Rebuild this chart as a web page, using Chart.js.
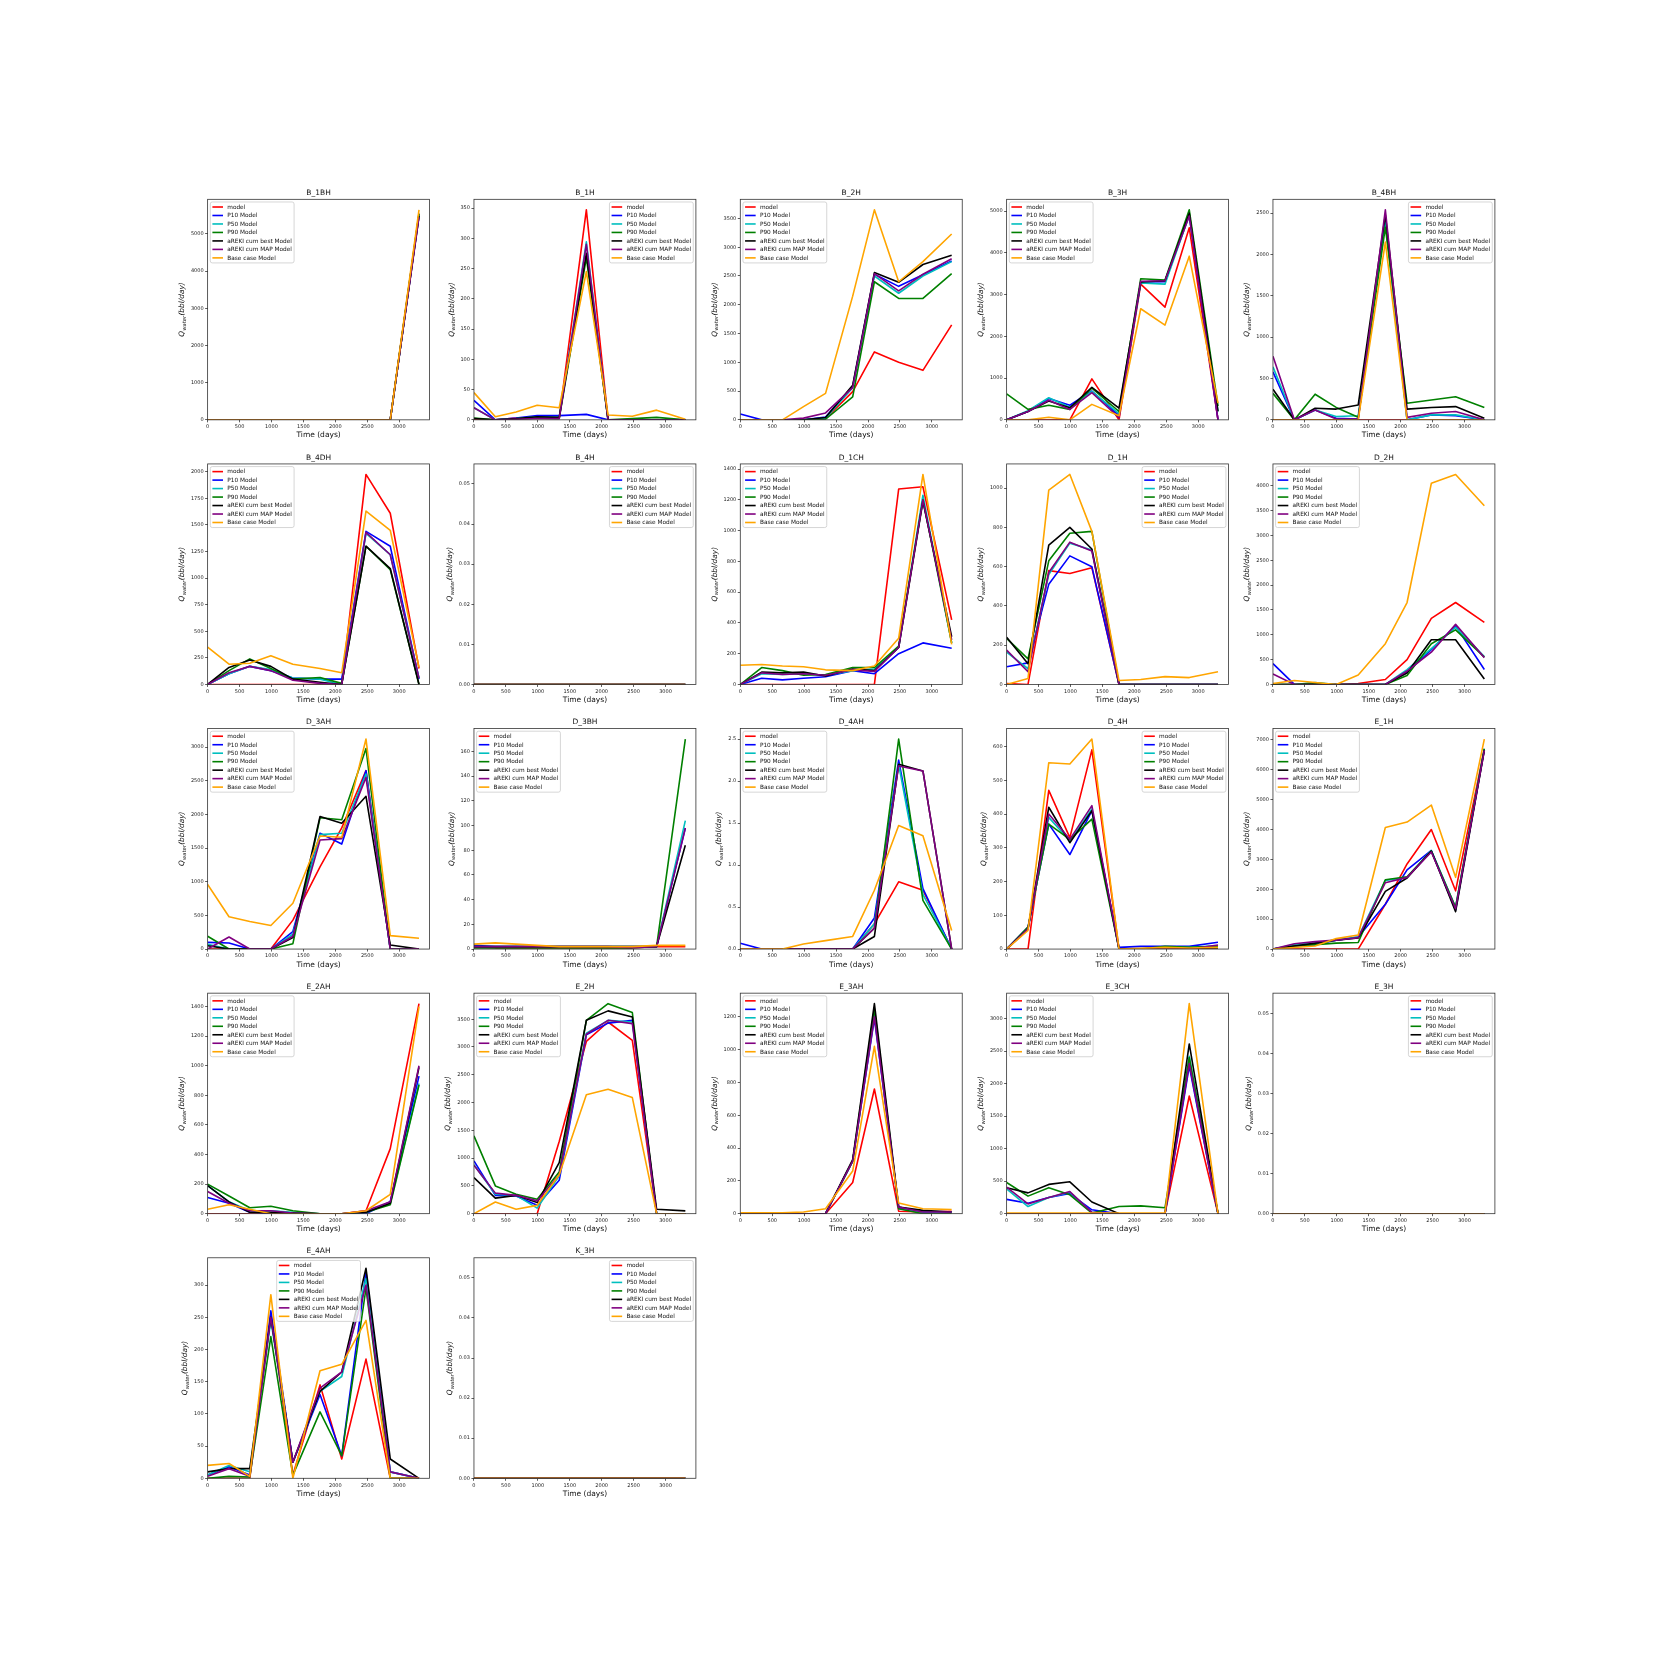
<!DOCTYPE html>
<html>
<head>
<meta charset="utf-8">
<script src="https://cdn.jsdelivr.net/npm/chart.js@4/dist/chart.umd.min.js"></script>
<style>
	html, body { margin: 0; padding: 0; background: #ffffff; }
	#figure { position: relative; width: 1661px; height: 1661px; background: #ffffff; overflow: hidden; }
	#figure canvas { position: absolute; }
</style>
</head>
<body>
<div id="figure"></div>
<script>
//time axis shared by every well (days)
var days = [0, 335, 660, 990, 1335, 1760, 2100, 2480, 2860, 3310];

//series names, in plotting order
var seriesLabels = ['model', 'P10 Model', 'P50 Model', 'P90 Model', 'aREKI cum best Model', 'aREKI cum MAP Model', 'Base case Model'];

//wells, row by row
var wells = ['B_1BH', 'B_1H', 'B_2H', 'B_3H', 'B_4BH',
	'B_4DH', 'B_4H', 'D_1CH', 'D_1H', 'D_2H',
	'D_3AH', 'D_3BH', 'D_4AH', 'D_4H', 'E_1H',
	'E_2AH', 'E_2H', 'E_3AH', 'E_3CH', 'E_3H',
	'E_4AH', 'K_3H'];

//tick spacing: x is shared, y is per well
var xTickStep = 500;
var yTickSteps = [1000, 50, 500, 1000, 500,
	250, 0.01, 200, 200, 500,
	500, 20, 0.5, 100, 1000,
	200, 500, 200, 500, 0.01,
	50, 0.01];

//water rate per well: one row per series (model, P10, P50, P90, best, MAP, base case)
var B_1BH = [
	[0, 0, 0, 0, 0, 0, 0, 0, 0, 5550],
	[0, 0, 0, 0, 0, 0, 0, 0, 0, 5500],
	[0, 0, 0, 0, 0, 0, 0, 0, 0, 5500],
	[0, 0, 0, 0, 0, 0, 0, 0, 0, 5550],
	[0, 0, 0, 0, 0, 0, 0, 0, 0, 5480],
	[0, 0, 0, 0, 0, 0, 0, 0, 0, 5450],
	[0, 0, 0, 0, 0, 0, 0, 0, 0, 5650]
];
var B_1H = [
	[0, 0, 3, 4, 3, 347, 0, 0, 0, 0],
	[32, 0, 3, 7, 7, 9, 0, 0, 0, 0],
	[20, 0, 2, 5, 4, 294, 0, 0, 0, 0],
	[3, 0, 1, 3, 2, 268, 0, 2, 4, 0],
	[2, 0, 2, 5, 4, 275, 0, 0, 0, 0],
	[20, 0, 1, 2, 2, 290, 0, 0, 0, 0],
	[45, 5, 13, 24, 20, 245, 8, 6, 16, 1]
];
var B_2H = [
	[0, 0, 0, 0, 20, 490, 1180, 1000, 860, 1650],
	[100, 0, 0, 0, 50, 580, 2530, 2320, 2520, 2760],
	[0, 0, 0, 0, 30, 560, 2500, 2200, 2500, 2750],
	[0, 0, 0, 0, 10, 400, 2400, 2110, 2110, 2540],
	[0, 0, 0, 0, 40, 600, 2560, 2390, 2700, 2860],
	[0, 0, 0, 30, 120, 560, 2540, 2240, 2530, 2800],
	[0, 0, 0, 230, 460, 2150, 3650, 2400, 2750, 3230]
];
var B_3H = [
	[0, 0, 0, 0, 980, 0, 3250, 2700, 4600, 0],
	[0, 200, 510, 350, 690, 100, 3300, 3310, 4900, 0],
	[0, 220, 530, 300, 680, 150, 3280, 3250, 4900, 200],
	[620, 250, 350, 250, 760, 200, 3380, 3350, 5030, 330],
	[0, 200, 450, 290, 780, 280, 3300, 3330, 4950, 200],
	[0, 200, 470, 250, 650, 50, 3320, 3330, 4880, 0],
	[0, 0, 60, 0, 370, 100, 2660, 2270, 3920, 400]
];
var B_4BH = [
	[0, 0, 0, 0, 0, 0, 0, 0, 0, 0],
	[580, 0, 120, 20, 10, 2450, 0, 60, 50, 0],
	[640, 0, 120, 40, 50, 2400, 0, 60, 60, 0],
	[320, 0, 310, 150, 30, 2330, 200, 240, 280, 150],
	[370, 0, 140, 130, 180, 2480, 130, 150, 160, 20],
	[770, 0, 120, 10, 10, 2540, 30, 80, 100, 0],
	[0, 0, 0, 0, 0, 2150, 0, 0, 0, 0]
];
var B_4DH = [
	[0, 0, 0, 0, 0, 0, 0, 1975, 1610, 150],
	[0, 100, 170, 130, 60, 50, 50, 1440, 1300, 50],
	[0, 100, 170, 140, 60, 50, 0, 1420, 1220, 60],
	[0, 130, 240, 150, 50, 65, 10, 1300, 1080, 0],
	[0, 160, 230, 170, 50, 20, 0, 1300, 1090, 0],
	[0, 110, 170, 130, 40, 10, 0, 1430, 1220, 60],
	[350, 190, 200, 270, 190, 150, 110, 1630, 1450, 160]
];
var B_4H = [
	[0, 0, 0, 0, 0, 0, 0, 0, 0, 0],
	[0, 0, 0, 0, 0, 0, 0, 0, 0, 0],
	[0, 0, 0, 0, 0, 0, 0, 0, 0, 0],
	[0, 0, 0, 0, 0, 0, 0, 0, 0, 0],
	[0, 0, 0, 0, 0, 0, 0, 0, 0, 0],
	[0, 0, 0, 0, 0, 0, 0, 0, 0, 0],
	[0, 0, 0, 0, 0, 0, 0, 0, 0, 0]
];
var D_1CH = [
	[0, 0, 0, 0, 0, 0, 0, 1270, 1285, 420],
	[0, 40, 30, 40, 50, 90, 70, 200, 270, 235],
	[0, 70, 65, 70, 60, 90, 100, 240, 1230, 270],
	[0, 110, 90, 60, 65, 110, 110, 250, 1200, 270],
	[0, 80, 75, 80, 55, 100, 90, 240, 1190, 310],
	[0, 75, 65, 70, 60, 95, 85, 240, 1200, 290],
	[125, 130, 120, 115, 95, 90, 120, 300, 1365, 260]
];
var D_1H = [
	[5, 0, 580, 565, 595, 0, 0, 0, 0, 0],
	[90, 110, 510, 655, 600, 0, 0, 0, 0, 0],
	[165, 80, 560, 720, 685, 0, 0, 0, 0, 0],
	[235, 130, 630, 770, 780, 0, 0, 0, 0, 0],
	[240, 105, 710, 800, 690, 0, 0, 0, 0, 0],
	[175, 65, 570, 725, 680, 0, 0, 0, 0, 0],
	[0, 30, 990, 1070, 780, 20, 25, 40, 35, 65]
];
var D_2H = [
	[0, 0, 0, 0, 20, 100, 500, 1330, 1650, 1250],
	[420, 0, 0, 0, 0, 0, 250, 700, 1180, 300],
	[0, 0, 40, 0, 0, 0, 300, 720, 1150, 560],
	[0, 0, 30, 0, 0, 0, 180, 820, 1100, 550],
	[0, 0, 0, 0, 0, 0, 230, 900, 900, 110],
	[210, 0, 0, 0, 0, 0, 270, 650, 1210, 540],
	[20, 80, 40, 0, 190, 820, 1650, 4050, 4230, 3600]
];
var D_3AH = [
	[0, 0, 0, 0, 430, 1220, 1800, 2650, 0, 0],
	[100, 90, 0, 0, 260, 1720, 1560, 2650, 0, 0],
	[70, 0, 0, 0, 220, 1700, 1720, 2600, 0, 0],
	[190, 0, 0, 0, 80, 1950, 1920, 2980, 0, 0],
	[50, 0, 0, 0, 170, 1970, 1870, 2270, 60, 0],
	[0, 180, 0, 0, 190, 1620, 1640, 2550, 0, 0],
	[960, 480, 410, 350, 680, 1680, 1660, 3120, 200, 160]
];
var D_3BH = [
	[2, 1, 1, 1, 1, 1, 1, 1, 2, 2],
	[3, 2, 2, 2, 2, 2, 2, 2, 2, 98],
	[2, 2, 2, 2, 2, 2, 2, 2, 2, 104],
	[1, 1, 1, 1, 1, 1, 1, 1, 2, 170],
	[2, 2, 2, 2, 2, 2, 2, 2, 2, 84],
	[2, 2, 2, 2, 2, 2, 2, 1, 2, 98],
	[4, 5, 4, 3, 2, 2, 2, 2, 3, 3]
];
var D_4AH = [
	[0, 0, 0, 0, 0, 0, 0.3, 0.8, 0.7, 0],
	[0.07, 0, 0, 0, 0, 0, 0.37, 2.25, 0.72, 0],
	[0, 0, 0, 0, 0, 0, 0.3, 2.2, 0.65, 0],
	[0, 0, 0, 0, 0, 0, 0.25, 2.5, 0.58, 0],
	[0, 0, 0, 0, 0, 0, 0.15, 2.2, 2.12, 0],
	[0, 0, 0, 0, 0, 0, 0.25, 2.18, 2.12, 0],
	[0, 0, 0, 0.06, 0.1, 0.15, 0.7, 1.47, 1.35, 0.22]
];
var D_4H = [
	[0, 0, 470, 330, 590, 0, 0, 0, 0, 5],
	[0, 65, 370, 280, 410, 5, 8, 8, 8, 20],
	[0, 60, 390, 320, 415, 0, 0, 5, 5, 10],
	[0, 65, 370, 325, 385, 0, 0, 8, 5, 8],
	[0, 60, 420, 315, 410, 0, 0, 0, 0, 0],
	[0, 60, 400, 325, 425, 0, 0, 0, 0, 12],
	[0, 55, 552, 548, 622, 0, 2, 5, 3, 5]
];
var E_1H = [
	[0, 0, 0, 0, 0, 1500, 2850, 4000, 1950, 6700],
	[0, 100, 150, 300, 400, 1500, 2650, 3300, 1300, 6700],
	[0, 150, 200, 300, 400, 2300, 2400, 3300, 1400, 6700],
	[0, 100, 150, 200, 220, 2320, 2420, 3280, 1400, 6700],
	[0, 100, 200, 300, 370, 1930, 2380, 3280, 1250, 6650],
	[0, 180, 250, 300, 380, 2220, 2400, 3250, 1350, 6650],
	[0, 50, 100, 350, 470, 4070, 4250, 4820, 2400, 7030]
];
var E_2AH = [
	[0, 0, 0, 0, 0, 0, 0, 20, 440, 1420],
	[110, 70, 10, 0, 0, 0, 0, 0, 80, 930],
	[190, 80, 20, 20, 10, 0, 0, 10, 70, 880],
	[200, 120, 40, 50, 20, 0, 0, 10, 60, 870],
	[190, 80, 10, 10, 5, 0, 0, 10, 70, 990],
	[150, 70, 20, 20, 5, 0, 0, 20, 80, 1000],
	[30, 60, 30, 0, 0, 0, 0, 20, 130, 1400]
];
var E_2H = [
	[0, 0, 0, 0, 1300, 3100, 3450, 3120, 0, 0],
	[950, 330, 320, 150, 600, 3220, 3430, 3480, 0, 0],
	[880, 350, 330, 100, 680, 3250, 3480, 3450, 0, 0],
	[1400, 500, 350, 260, 750, 3480, 3780, 3620, 0, 0],
	[650, 280, 330, 200, 920, 3480, 3650, 3540, 80, 50],
	[870, 370, 330, 230, 700, 3230, 3480, 3420, 0, 0],
	[0, 210, 80, 150, 700, 2140, 2240, 2090, 0, 0]
];
var E_3AH = [
	[0, 0, 0, 0, 0, 190, 760, 15, 10, 15],
	[0, 0, 0, 0, 0, 320, 1190, 40, 10, 10],
	[0, 0, 0, 0, 0, 320, 1220, 30, 10, 10],
	[0, 0, 0, 0, 0, 320, 1250, 30, 0, 0],
	[0, 0, 0, 0, 0, 330, 1280, 40, 20, 10],
	[0, 0, 0, 0, 0, 320, 1200, 40, 10, 10],
	[5, 5, 5, 10, 30, 260, 1020, 65, 30, 25]
];
var E_3CH = [
	[0, 0, 0, 0, 0, 0, 0, 0, 1810, 0],
	[220, 160, 250, 310, 60, 0, 0, 0, 2270, 0],
	[380, 110, 250, 330, 20, 0, 0, 0, 2420, 0],
	[480, 270, 400, 290, 10, 110, 120, 90, 2400, 0],
	[400, 320, 450, 490, 180, 0, 0, 0, 2610, 0],
	[410, 150, 250, 340, 20, 0, 0, 0, 2310, 0],
	[10, 10, 10, 10, 10, 10, 10, 10, 3230, 0]
];
var E_3H = [
	[0, 0, 0, 0, 0, 0, 0, 0, 0, 0],
	[0, 0, 0, 0, 0, 0, 0, 0, 0, 0],
	[0, 0, 0, 0, 0, 0, 0, 0, 0, 0],
	[0, 0, 0, 0, 0, 0, 0, 0, 0, 0],
	[0, 0, 0, 0, 0, 0, 0, 0, 0, 0],
	[0, 0, 0, 0, 0, 0, 0, 0, 0, 0],
	[0, 0, 0, 0, 0, 0, 0, 0, 0, 0]
];
var E_4AH = [
	[0, 0, 0, 255, 5, 145, 30, 185, 0, 0],
	[5, 18, 5, 260, 25, 130, 35, 320, 10, 0],
	[5, 20, 10, 245, 25, 135, 158, 310, 10, 0],
	[0, 3, 2, 220, 5, 103, 35, 295, 0, 0],
	[10, 15, 15, 250, 25, 135, 165, 326, 30, 0],
	[3, 15, 3, 250, 25, 140, 165, 300, 10, 0],
	[20, 23, 3, 285, 0, 167, 177, 245, 0, 0]
];
var K_3H = [
	[0, 0, 0, 0, 0, 0, 0, 0, 0, 0],
	[0, 0, 0, 0, 0, 0, 0, 0, 0, 0],
	[0, 0, 0, 0, 0, 0, 0, 0, 0, 0],
	[0, 0, 0, 0, 0, 0, 0, 0, 0, 0],
	[0, 0, 0, 0, 0, 0, 0, 0, 0, 0],
	[0, 0, 0, 0, 0, 0, 0, 0, 0, 0],
	[0, 0, 0, 0, 0, 0, 0, 0, 0, 0]
];

var wellData = [B_1BH, B_1H, B_2H, B_3H, B_4BH,
	B_4DH, B_4H, D_1CH, D_1H, D_2H,
	D_3AH, D_3BH, D_4AH, D_4H, E_1H,
	E_2AH, E_2H, E_3AH, E_3CH, E_3H,
	E_4AH, K_3H];

//styling
var seriesColors = ['#ff0000', '#0000ff', '#00bfbf', '#008000', '#000000', '#800080', '#ffa500'];
var legendLoc = ['left', 'right', 'left', 'left', 'right',
	'left', 'right', 'left', 'right', 'left',
	'left', 'left', 'left', 'right', 'left',
	'left', 'left', 'left', 'left', 'right',
	'center', 'right'];

var FONT = '"DejaVu Sans", sans-serif';
var FIG = 1661;
var AX_W = (0.9 - 0.125) * FIG / 5.8,
	AX_H = (0.88 - 0.11) * FIG / 5.8;
var Y_GUTTER = 50, TOP_GUTTER = 20, X_GUTTER = 26;
var CANVAS_W = 290, CANVAS_H = 272;

Chart.defaults.font.family = FONT;

//draws spines, title, y label and the inside legend
var axesDecor = {
	id: 'axesDecor',
	afterDraw: function( chart, args, opts ) {
		var ctx = chart.ctx,
			a = chart.chartArea;
		ctx.save();

		//spines
		ctx.strokeStyle = '#333333';
		ctx.lineWidth = 0.8;
		ctx.strokeRect(a.left, a.top, a.right - a.left, a.bottom - a.top);

		//title
		ctx.fillStyle = '#111111';
		ctx.font = '7.5px ' + FONT;
		ctx.textAlign = 'center';
		ctx.textBaseline = 'middle';
		ctx.fillText(opts.title, (a.left + a.right) / 2, a.top - 6.3);

		//y label, placed left of the widest tick label
		ctx.font = '5px ' + FONT;
		var tickW = 0;
		chart.scales.y.ticks.forEach(function( t ) {
			tickW = Math.max(tickW, ctx.measureText(String(t.label)).width);
		});
		var big = 'italic 7.4px ' + FONT,
			small = 'italic 5.2px ' + FONT;
		ctx.font = big; var wQ = ctx.measureText('Q').width;
		ctx.font = small; var wSub = ctx.measureText('water').width;
		ctx.font = big; var wUnit = ctx.measureText('(bbl/day)').width;
		var total = wQ + wSub + wUnit + 0.6;
		ctx.translate(a.left - tickW - 13.5, (a.top + a.bottom) / 2);
		ctx.rotate(-Math.PI / 2);
		ctx.textAlign = 'left';
		ctx.textBaseline = 'alphabetic';
		var x = -total / 2;
		ctx.font = big; ctx.fillText('Q', x, 2.6); x += wQ + 0.3;
		ctx.font = small; ctx.fillText('water', x, 4.2); x += wSub + 0.3;
		ctx.font = big; ctx.fillText('(bbl/day)', x, 2.6);
		ctx.setTransform(1, 0, 0, 1, 0, 0);

		//legend box
		var f = 5.3,
			textPx = 5.8;
		ctx.font = textPx + 'px ' + FONT;
		var textW = 0;
		chart.data.datasets.forEach(function( ds ) {
			textW = Math.max(textW, ctx.measureText(ds.label).width);
		});
		var bw = textW + 3.6 * f,
			bh = 11.5 * f,
			bx = a.left + 0.5 * f,
			by = a.top + 0.5 * f;
		if ( opts.loc === 'right' ) bx = a.right - 0.5 * f - bw;
		if ( opts.loc === 'center' ) bx = (a.left + a.right) / 2 - bw / 2;
		ctx.beginPath();
		ctx.roundRect(bx, by, bw, bh, 2);
		ctx.fillStyle = 'rgba(255,255,255,0.8)';
		ctx.fill();
		ctx.strokeStyle = '#cccccc';
		ctx.lineWidth = 0.8;
		ctx.stroke();

		//legend entries
		ctx.textAlign = 'left';
		ctx.textBaseline = 'middle';
		chart.data.datasets.forEach(function( ds, n ) {
			var cy = by + 0.4 * f + n * 1.6 * f + 0.55 * f;
			ctx.beginPath();
			ctx.moveTo(bx + 0.4 * f, cy);
			ctx.lineTo(bx + 2.4 * f, cy);
			ctx.strokeStyle = ds.borderColor;
			ctx.lineWidth = 1.6;
			ctx.stroke();
			ctx.fillStyle = '#111111';
			ctx.fillText(ds.label, bx + 3.2 * f, cy + 0.3);
		});

		ctx.restore();
	}
};

//puts ticks on every multiple of step inside [0, max]
function stepTicks( step ) {
	return function( scale ) {
		var list = [];
		for ( var k = 0; k * step <= scale.max + 1e-9; k++ ) {
			list.push({ value: Math.round(k * step * 1e6) / 1e6 });
		}
		scale.ticks = list;
	};
}

function decimalsFor( step ) {
	if ( step >= 1 ) return 0;
	return Math.max(0, Math.ceil(-Math.log10(step) - 1e-9));
}

function build() {
	var figure = document.getElementById('figure');
	var xMax = days[days.length - 1] * 1.05;

	for ( var n = 0; n < wells.length; n++ ) {
		var col = n % 5,
			row = Math.floor(n / 5);
		var axLeft = 0.125 * FIG + col * 1.2 * AX_W,
			axTop = (1 - 0.88) * FIG + row * 1.2 * AX_H;
		var cl = Math.floor(axLeft) - Y_GUTTER,
			ct = Math.floor(axTop) - TOP_GUTTER;

		var canvas = document.createElement('canvas');
		canvas.width = CANVAS_W;
		canvas.height = CANVAS_H;
		canvas.style.width = CANVAS_W + 'px';
		canvas.style.height = CANVAS_H + 'px';
		canvas.style.left = cl + 'px';
		canvas.style.top = ct + 'px';
		figure.appendChild(canvas);

		var rows = wellData[n];
		var peak = 0;
		rows.forEach(function( r ) { r.forEach(function( v ) { peak = Math.max(peak, v); }); });
		var yMax = peak > 0 ? peak * 1.05 : 0.055;
		var step = yTickSteps[n],
			dec = decimalsFor(step);

		var datasets = [];
		for ( var k = 0; k < seriesLabels.length; k++ ) {
			datasets.push({
				label: seriesLabels[k],
				data: days.map(function( d, i ) { return { x: d, y: rows[k][i] }; }),
				borderColor: seriesColors[k],
				backgroundColor: seriesColors[k],
				borderWidth: 1.6,
				borderJoinStyle: 'round',
				pointRadius: 0,
				fill: false,
				tension: 0,
				order: seriesLabels.length - 1 - k
			});
		}

		var padLeft = axLeft - Y_GUTTER - cl,
			padTop = axTop - ct,
			padRight = CANVAS_W - (axLeft - cl) - AX_W,
			padBottom = CANVAS_H - padTop - AX_H - X_GUTTER;

		new Chart(canvas.getContext('2d'), {
			type: 'line',
			data: { datasets: datasets },
			options: {
				responsive: false,
				animation: false,
				devicePixelRatio: 1,
				events: [],
				layout: { padding: { left: padLeft, right: padRight, top: padTop, bottom: padBottom } },
				plugins: {
					legend: { display: false },
					tooltip: { enabled: false },
					title: { display: false },
					axesDecor: { title: wells[n], loc: legendLoc[n] }
				},
				scales: {
					x: {
						type: 'linear',
						min: 0,
						max: xMax,
						afterBuildTicks: stepTicks(xTickStep),
						afterFit: function( s ) { s.height = X_GUTTER; },
						ticks: {
							autoSkip: false,
							maxRotation: 0,
							padding: 1.5,
							color: '#222222',
							font: { size: 5 },
							callback: function( v ) { return Number(v).toFixed(0); }
						},
						grid: { drawOnChartArea: false, tickLength: 2.5, color: '#333333', lineWidth: 0.8 },
						border: { display: false },
						title: {
							display: true,
							text: 'Time (days)',
							color: '#111111',
							font: { size: 7.5, lineHeight: 1 },
							padding: { top: 0, bottom: 6.6 }
						}
					},
					y: {
						type: 'linear',
						min: 0,
						max: yMax,
						afterBuildTicks: stepTicks(step),
						afterFit: function( s ) { s.width = Y_GUTTER; },
						ticks: {
							autoSkip: false,
							padding: 1.5,
							color: '#222222',
							font: { size: 5 },
							callback: (function( d ) { return function( v ) { return Number(v).toFixed(d); }; })(dec)
						},
						grid: { drawOnChartArea: false, tickLength: 2.5, color: '#333333', lineWidth: 0.8 },
						border: { display: false }
					}
				}
			},
			plugins: [axesDecor]
		});
	}
}

build();
</script>
</body>
</html>
